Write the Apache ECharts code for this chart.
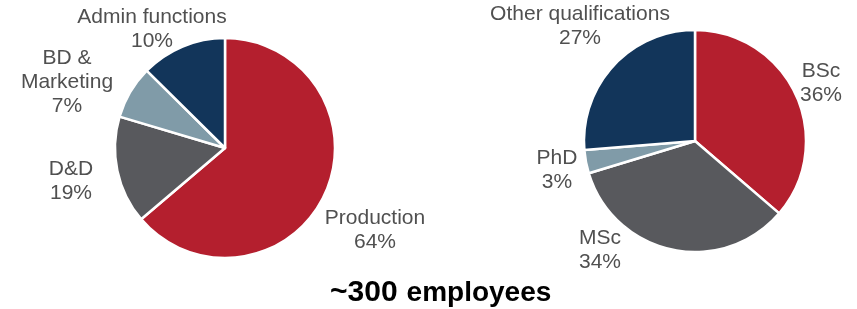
<!DOCTYPE html>
<html>
<head>
    <meta charset="utf-8">
    <title>Employees</title>
    <script src="https://cdn.jsdelivr.net/npm/echarts@6/dist/echarts.min.js"></script>
    <style>
        html, body { margin: 0; padding: 0; background: #fff; }
    </style>
</head>
<body>
    <div id="main" style="width: 857px;height:309px;"></div>
    <script type="text/javascript">
        // left pie: function split (slice sizes as drawn, printed labels)
        var funcNames  = ['Production', 'D&D', 'BD &\nMarketing', 'Admin functions'];
        var funcShares = [63.8, 15.8, 7.8, 12.6];
        var funcLabels = ['64%', '19%', '7%', '10%'];

        // right pie: qualifications
        var qualNames  = ['BSc', 'MSc', 'PhD', 'Other qualifications'];
        var qualShares = [36.3, 34.0, 3.4, 26.3];
        var qualLabels = ['36%', '34%', '3%', '27%'];

        var colors = ['#b41f2e', '#58595d', '#809ba8', '#12355a'];

        // where each label block sits (center of block)
        var funcLabelPos = [[375, 230], [71, 181], [67, 82], [152, 29]];
        var qualLabelPos = [[821, 83], [600, 250], [557, 170], [580, 26]];

        function buildData(names, shares, labels) {
            return names.map(function (n, i) {
                return {
                    name: n,
                    value: shares[i],
                    pct: labels[i],
                    itemStyle: { color: colors[i] }
                };
            });
        }

        function pieSeries(center, radius, data, labelPos) {
            return {
                type: 'pie',
                center: center,
                radius: radius,
                startAngle: 90,
                clockwise: true,
                avoidLabelOverlap: false,
                itemStyle: { borderColor: '#fff', borderWidth: 2.5 },
                label: {
                    show: true,
                    position: 'outside',
                    color: '#505050',
                    fontFamily: 'Liberation Sans, Arial, sans-serif',
                    fontSize: 21,
                    lineHeight: 24,
                    align: 'center',
                    formatter: function (p) {
                        return p.name + '\n' + p.data.pct;
                    }
                },
                labelLine: { show: false },
                labelLayout: function (p) {
                    var xy = labelPos[p.dataIndex];
                    return { x: xy[0], y: xy[1], align: 'center', verticalAlign: 'middle' };
                },
                emphasis: { disabled: true },
                data: data
            };
        }

        var myChart = echarts.init(document.getElementById('main'));

        var option = {
            animation: false,
            title: {
                text: '{a|~300}{b|employees}',
                left: 325,
                top: 273,
                textStyle: {
                    rich: {
                        a: { fontFamily: 'Liberation Sans, Arial, sans-serif', fontWeight: 'bold', fontSize: 30, color: '#000', padding: [0, 9, 0, 0] },
                        b: { fontFamily: 'Liberation Sans, Arial, sans-serif', fontWeight: 'bold', fontSize: 28, color: '#000' }
                    }
                }
            },
            series: [
                pieSeries([225, 148], 110, buildData(funcNames, funcShares, funcLabels), funcLabelPos),
                pieSeries([695, 141], 111, buildData(qualNames, qualShares, qualLabels), qualLabelPos)
            ]
        };

        myChart.setOption(option);
    </script>
</body>
</html>
